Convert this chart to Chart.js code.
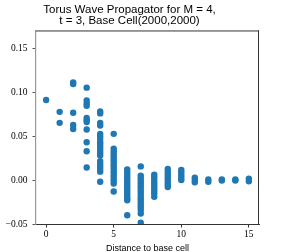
<!DOCTYPE html>
<html>
<head>
<meta charset="utf-8">
<script src="https://cdn.jsdelivr.net/npm/chart.js@4.4.1/dist/chart.umd.min.js"></script>
<style>
  html, body { margin: 0; padding: 0; background: #fff; }
  #wrap { width: 288px; height: 252px; }
</style>
</head>
<body>
<div id="wrap"><canvas id="chart" width="288" height="252"></canvas></div>
<script>
// distance to base cell (x) and the propagator values seen at each distance
const distances = [0, 1, 2, 3, 4, 5, 6, 7, 8, 9, 10, 11, 12, 13, 14, 15];
const valuesByDistance = [
    [0.091],
    [0.0775, 0.065],
    [0.111, 0.109, 0.0765, 0.0625, 0.058],
    [0.105, 0.0905, 0.087, 0.0845, 0.0705, 0.068, 0.066, 0.0575, 0.043, 0.0327, 0.0143],
    [0.078, 0.0757, 0.065, 0.062, 0.0525, 0.0495, 0.0465, 0.043, 0.040, 0.037, 0.034, 0.031, 0.028,
        0.0215, 0.0185, 0.0155, 0.0125, 0.0095, -0.002],
    [0.0525, 0.0357, 0.0327, 0.0297, 0.0267, 0.0237, 0.0207, 0.0177, 0.0147, 0.0117, 0.0087,
        0.0056, 0.0025, -0.0005, -0.004, -0.013],
    [0.012, 0.009, 0.006, 0.003, 0.0, -0.003, -0.006, -0.009, -0.012, -0.015, -0.018, -0.021,
        -0.023, -0.040],
    [0.0155, 0.005, 0.002, -0.001, -0.004, -0.007, -0.010, -0.013, -0.016, -0.019, -0.022, -0.025,
        -0.028, -0.031, -0.034, -0.038, -0.0485],
    [0.006, 0.003, 0.0, -0.003, -0.006, -0.009, -0.012, -0.015, -0.019],
    [0.0125, 0.0095, 0.0065, 0.0035, 0.0005, -0.0025, -0.0055, -0.008],
    [0.0115, 0.0085, 0.0055, 0.0025, 0.0],
    [0.0025, 0.0, -0.0025],
    [0.0005, -0.002],
    [0.0005, -0.0005],
    [0.0005, -0.0005],
    [0.0015, -0.0015]
];
const xTicks = [0, 5, 10, 15];
const yTicks = [-0.05, 0, 0.05, 0.10, 0.15];
const yTickLabels = ['\u22120.05', '0.00', '0.05', '0.10', '0.15'];

const points = [];
distances.forEach((d, i) => {
    valuesByDistance[i].forEach(v => points.push({ x: d, y: v }));
});

const serif = 'Liberation Serif, Times New Roman, serif';
const sans = 'Liberation Sans, Arial, sans-serif';

// matplotlib draws a closed frame; Chart.js only has the two axis lines
const framePlugin = {
    id: 'frame',
    afterDatasetsDraw(chart) {
        const { ctx, chartArea: a } = chart;
        ctx.save();
        ctx.strokeStyle = '#333';
        ctx.lineWidth = 1;
        ctx.beginPath();
        ctx.moveTo(a.left, a.top + 0.5);
        ctx.lineTo(a.right, a.top + 0.5);
        ctx.moveTo(a.right - 0.5, a.top);
        ctx.lineTo(a.right - 0.5, a.bottom);
        ctx.stroke();
        ctx.restore();
    }
};

new Chart(document.getElementById('chart'), {
    type: 'scatter',
    data: {
        datasets: [{
            data: points,
            backgroundColor: '#1f77b4',
            borderColor: '#1f77b4',
            borderWidth: 0,
            pointRadius: 3.2,
            pointHoverRadius: 3.2,
            clip: 0
        }]
    },
    options: {
        responsive: false,
        animation: false,
        events: [],
        layout: {
            padding: { left: 0, right: 29, top: 0, bottom: 0 }
        },
        plugins: {
            legend: { display: false },
            tooltip: { enabled: false },
            title: {
                display: true,
                text: ['Torus Wave Propagator for M = 4,', 't = 3, Base Cell(2000,2000)'],
                color: '#000',
                font: { family: sans, size: 11.5, weight: 'normal', lineHeight: 1.02 },
                padding: { top: 3.6, bottom: 3.4 }
            }
        },
        scales: {
            x: {
                type: 'linear',
                min: -0.75,
                max: 15.75,
                afterBuildTicks: scale => { scale.ticks = xTicks.map(v => ({ value: v })); },
                afterFit: scale => { scale.height = 28; },
                ticks: {
                    color: '#000',
                    font: { family: serif, size: 9.5 },
                    padding: 1.5,
                    maxRotation: 0,
                    callback: v => String(v)
                },
                grid: {
                    drawOnChartArea: false,
                    drawTicks: true,
                    tickLength: 3.5,
                    color: '#333'
                },
                border: { color: '#333', width: 1 },
                title: {
                    display: true,
                    text: 'Distance to base cell',
                    color: '#000',
                    font: { family: sans, size: 9, lineHeight: 0.75 },
                    padding: { top: 0, bottom: 0 }
                }
            },
            y: {
                type: 'linear',
                min: -0.05,
                max: 0.17,
                afterBuildTicks: scale => { scale.ticks = yTicks.map(v => ({ value: v })); },
                afterFit: scale => { scale.width = 36; },
                ticks: {
                    color: '#000',
                    font: { family: serif, size: 9.5 },
                    padding: 5,
                    callback: (v, i) => yTickLabels[i]
                },
                grid: {
                    drawOnChartArea: false,
                    drawTicks: true,
                    tickLength: 3.5,
                    color: '#555'
                },
                border: { color: '#999', width: 1.2 }
            }
        }
    },
    plugins: [framePlugin]
});
</script>
</body>
</html>
